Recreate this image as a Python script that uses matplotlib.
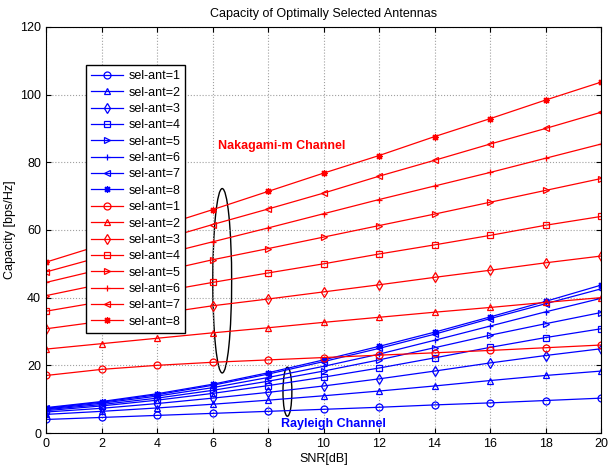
import numpy as np
import matplotlib
matplotlib.use('Agg')
import matplotlib.pyplot as plt
from matplotlib.patches import Ellipse

snr = [0, 2, 4, 6, 8, 10, 12, 14, 16, 18, 20]
labels = ['sel-ant=%d' % k for k in range(1, 9)]
markers = ['o', '^', 'd', 's', '>', '+', '<', (8, 2, 0)]

# Rayleigh channel, sel-ant = 1..8
ray1 = [4.0, 4.6, 5.2, 5.8, 6.4, 7.0, 7.6, 8.3, 8.9, 9.6, 10.3]
ray2 = [5.5, 6.4, 7.4, 8.5, 9.7, 11.0, 12.4, 13.9, 15.5, 17.0, 18.3]
ray3 = [6.2, 7.3, 8.7, 10.3, 12.0, 13.9, 16.0, 18.3, 20.7, 22.9, 24.9]
ray4 = [6.6, 8.0, 9.7, 11.7, 14.0, 16.5, 19.2, 22.2, 25.3, 28.2, 30.8]
ray5 = [6.9, 8.4, 10.3, 12.6, 15.3, 18.3, 21.6, 25.2, 28.9, 32.3, 35.6]
ray6 = [7.1, 8.8, 10.9, 13.4, 16.4, 19.7, 23.3, 27.4, 31.6, 35.8, 39.8]
ray7 = [7.3, 9.1, 11.3, 14.1, 17.4, 21.1, 25.0, 29.2, 33.8, 38.2, 42.6]
ray8 = [7.5, 9.3, 11.6, 14.4, 17.8, 21.6, 25.6, 29.8, 34.3, 38.9, 43.7]

# Nakagami-m channel, sel-ant = 1..8
nak1 = [17.0, 18.8, 20.0, 20.9, 21.6, 22.3, 23.0, 23.7, 24.4, 25.2, 26.0]
nak2 = [24.8, 26.4, 28.0, 29.6, 31.1, 32.7, 34.2, 35.7, 37.1, 38.6, 40.0]
nak3 = [30.8, 33.0, 35.2, 37.6, 39.6, 41.7, 43.8, 46.0, 48.1, 50.3, 52.3]
nak4 = [36.0, 38.8, 41.6, 44.5, 47.3, 50.0, 52.9, 55.6, 58.4, 61.4, 64.0]
nak5 = [40.6, 44.0, 47.5, 51.2, 54.5, 57.9, 61.3, 64.7, 68.2, 71.7, 75.2]
nak6 = [44.5, 48.4, 52.4, 56.5, 60.6, 64.8, 69.0, 73.0, 77.0, 81.2, 85.4]
nak7 = [47.6, 52.1, 56.8, 61.6, 66.2, 70.9, 75.9, 80.6, 85.4, 90.0, 94.8]
nak8 = [50.5, 55.6, 60.8, 66.0, 71.4, 76.8, 82.0, 87.6, 92.9, 98.4, 103.7]

rayleigh = [ray1, ray2, ray3, ray4, ray5, ray6, ray7, ray8]
nakagami = [nak1, nak2, nak3, nak4, nak5, nak6, nak7, nak8]

plt.rcParams['font.family'] = ['Liberation Sans', 'DejaVu Sans']

fig = plt.figure(figsize=(6.08, 4.65), dpi=100)
ax = fig.add_axes([46/608, 1-433/465, 555/608, 406/465])

for i in range(8):
    ax.plot(snr, rayleigh[i], color='b', marker=markers[i], markersize=5,
            markerfacecolor='none', markeredgewidth=0.9, lw=0.9, label=labels[i])
for i in range(8):
    ax.plot(snr, nakagami[i], color='r', marker=markers[i], markersize=5,
            markerfacecolor='none', markeredgewidth=0.9, lw=0.9, label=labels[i])

ax.add_patch(Ellipse((6.35, 45), 0.68, 54.5, fill=False, color='k', lw=1))
ax.add_patch(Ellipse((8.7, 12.2), 0.32, 14.5, fill=False, color='k', lw=1))

ax.text(6.2, 84, 'Nakagami-m Channel', color='r', fontsize=9, fontweight='bold')
ax.text(10.35, 2.7, 'Rayleigh Channel', color='b', fontsize=9, fontweight='bold',
        ha='center', va='center')

ax.set_xlim(0, 20)
ax.set_ylim(0, 120)
ax.set_xticks(np.arange(0, 21, 2))
ax.set_yticks(np.arange(0, 121, 20))
ax.grid(True, color='#a0a0a0', linestyle=':', linewidth=0.8)
ax.tick_params(direction='in', labelsize=9, top=True, right=True)
ax.set_xlabel('SNR[dB]', fontsize=9, labelpad=2)
ax.set_ylabel('Capacity [bps/Hz]', fontsize=9, labelpad=3)
ax.set_title('Capacity of Optimally Selected Antennas', fontsize=9, pad=7)

leg = ax.legend(loc='upper left', bbox_to_anchor=(0.072, 0.906), fontsize=9,
                handlelength=2.6, labelspacing=0.35, borderpad=0.4,
                handletextpad=0.4, fancybox=False, framealpha=1, edgecolor='k',
                borderaxespad=0)
leg.get_frame().set_linewidth(1)

fig.savefig('out.png', dpi=100)
